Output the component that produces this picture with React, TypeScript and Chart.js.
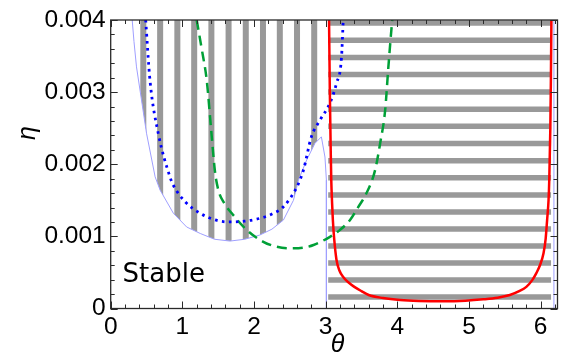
import React, { useEffect, useRef } from 'react';
import { Chart, registerables } from 'chart.js';

Chart.register(...registerables);

// ---------- data ----------
const xTickValues = [0, 1, 2, 3, 4, 5, 6];
const yTickLabels = ['0', '0.001', '0.002', '0.003', '0.004'];

// thin lavender boundary of the vertically striped region
const lavTheta = [0.30, 0.325, 0.36, 0.43, 0.50, 0.62, 0.69, 0.875, 1.06, 1.25, 1.45, 1.665, 1.87, 2.08, 2.25, 2.41, 2.55, 2.62, 2.735, 2.85, 2.94, 2.99, 3.01, 3.01];
const lavEta = [0.0040, 0.0037, 0.00335, 0.00289, 0.00243, 0.001825, 0.00164, 0.00132, 0.00113, 0.00104, 0.00096, 0.000935, 0.00096, 0.001018, 0.0011, 0.001226, 0.0015, 0.00178, 0.00206, 0.00229, 0.00238, 0.0021, 0.00178, 0];

// thin lavender line at the right edge of the horizontally striped region
const lavRightTheta = [6.185, 6.185];
const lavRightEta = [0, 0.004];

// blue dotted curve
const blueTheta = [0.488, 0.548, 0.664, 0.827, 0.873, 1.04, 1.25, 1.45, 1.64, 1.86, 2.08, 2.25, 2.41, 2.6, 2.69, 2.80, 2.92, 3.06, 3.15, 3.22, 3.245];
const blueEta = [0.004, 0.003165, 0.002427, 0.001825, 0.00171, 0.00148, 0.00132, 0.00123, 0.0012, 0.00121, 0.00125, 0.00131, 0.00141, 0.00169, 0.00192, 0.00238, 0.00261, 0.00285, 0.00312, 0.00347, 0.004];

// green dashed curve
const greenTheta = [1.20, 1.27, 1.34, 1.40, 1.455, 1.50, 1.59, 1.69, 1.90, 2.13, 2.30, 2.50, 2.70, 2.83, 3.06, 3.20, 3.34, 3.45, 3.57, 3.69, 3.76, 3.83, 3.875, 3.92, 3.93];
const greenEta = [0.004, 0.0036, 0.003165, 0.0025, 0.0019, 0.00165, 0.00145, 0.00132, 0.001087, 0.000925, 0.00086, 0.000834, 0.000845, 0.00088, 0.000994, 0.00109, 0.001226, 0.0014, 0.0016, 0.00192, 0.00229, 0.00275, 0.00335, 0.0039, 0.004];

// red solid curve
const redTheta = [3.047, 3.058, 3.07, 3.078, 3.09, 3.10, 3.12, 3.15, 3.19, 3.25, 3.32, 3.40, 3.50, 3.60, 3.80, 4.04, 4.30, 4.64, 4.95, 5.20, 5.40, 5.57, 5.70, 5.80, 5.88, 5.94, 5.99, 6.04, 6.07, 6.09, 6.11, 6.12, 6.135, 6.143, 6.15];
const redEta = [0.004, 0.003, 0.0022, 0.00178, 0.00145, 0.00123, 0.00095, 0.00068, 0.00053, 0.00043, 0.00036, 0.0003, 0.00024, 0.000187, 0.000145, 0.000118, 0.000105, 0.0001, 0.000108, 0.000127, 0.00015, 0.000187, 0.00024, 0.0003, 0.00039, 0.00049, 0.0006, 0.000765, 0.00097, 0.001226, 0.0015, 0.00178, 0.0025, 0.0032, 0.004];

// vertical gray stripes (theta positions)
const vStripeTheta = [0.455, 0.69, 0.93, 1.165, 1.405, 1.645, 1.885, 2.125, 2.36, 2.60, 2.84];
// horizontal gray stripes (eta positions) and their theta extent
const hStripeEta = [0.000159, 0.000395, 0.00063, 0.000866, 0.001101, 0.001338, 0.001575, 0.001812, 0.002047, 0.002288, 0.002528, 0.002763, 0.003003, 0.003244, 0.003479, 0.003718, 0.003958];
const hStripeFrom = 3.035;
const hStripeTo = 6.145;

// ---------- layout ----------
const W = 563;
const H = 364;
const AREA_LEFT = 110.7;
const AREA_RIGHT = 557.5;
const AREA_TOP = 20;
const AREA_BOTTOM = 308.5;
const X_MAX = 6.235;

const LAV_INDEX = 3;

const pts = (xs: number[], ys: number[]) => xs.map((x, i) => ({ x, y: ys[i] }));

const stripeClip = {
  id: 'stripeClip',
  beforeDatasetDraw(chart: any, args: any) {
    const ds = chart.data.datasets[args.index];
    if (!ds.clipToLav) return;
    const lav = chart.getDatasetMeta(LAV_INDEX).data;
    const ctx = chart.ctx;
    const a = chart.chartArea;
    ctx.save();
    ctx.beginPath();
    ctx.moveTo(lav[0].x, a.top - 20);
    lav.forEach((p: any) => ctx.lineTo(p.x, p.y));
    const last = lav[lav.length - 1];
    ctx.lineTo(last.x, a.top - 20);
    ctx.closePath();
    ctx.clip();
  },
  afterDatasetDraw(chart: any, args: any) {
    const ds = chart.data.datasets[args.index];
    if (ds.clipToLav) chart.ctx.restore();
  },
};

const framePlugin = {
  id: 'framePlugin',
  afterDatasetsDraw(chart: any) {
    const { ctx, chartArea: a, scales } = chart;
    const x = scales.x;
    const y = scales.y;
    ctx.save();
    ctx.strokeStyle = '#2a2a2a';
    ctx.lineWidth = 1.3;
    ctx.strokeRect(a.left, a.top, a.right - a.left, a.bottom - a.top);
    ctx.lineWidth = 1;
    const seg = (x1: number, y1: number, x2: number, y2: number) => {
      ctx.beginPath();
      ctx.moveTo(x1, y1);
      ctx.lineTo(x2, y2);
      ctx.stroke();
    };
    for (let i = 0; i <= 40; i++) {
      const v = i * 0.2;
      if (v > x.max) break;
      const px = Math.round(x.getPixelForValue(v)) + 0.5;
      const L = i % 5 === 0 ? 7 : 4;
      seg(px, a.bottom, px, a.bottom - L);
      seg(px, a.top, px, a.top + L);
    }
    for (let i = 0; i <= 20; i++) {
      const v = i * 0.0002;
      const py = Math.round(y.getPixelForValue(v)) + 0.5;
      const L = i % 5 === 0 ? 7 : 4;
      seg(a.left, py, a.left + L, py);
      seg(a.right, py, a.right - L, py);
    }
    // texts
    ctx.fillStyle = '#000';
    ctx.font = '26px "DejaVu Sans"';
    ctx.textAlign = 'left';
    ctx.textBaseline = 'alphabetic';
    ctx.fillText('Stable', x.getPixelForValue(0.165), y.getPixelForValue(0.000367));
    ctx.font = 'italic 25px "Liberation Sans"';
    ctx.textAlign = 'center';
    ctx.textBaseline = 'middle';
    ctx.fillText('θ', 337.5, 345);
    ctx.translate(28, 133);
    ctx.rotate(-Math.PI / 2);
    ctx.fillText('η', 0, 0);
    ctx.restore();
  },
};

export default function App() {
  const ref = useRef<HTMLCanvasElement | null>(null);
  useEffect(() => {
    document.body.style.margin = '0';
    const canvas = ref.current;
    if (!canvas) return;

    const curve = (data: any, color: string, width: number, extra: any = {}) => ({
      data,
      borderColor: color,
      backgroundColor: color,
      borderWidth: width,
      pointRadius: 0,
      fill: false,
      clip: 0,
      ...extra,
    });

    const datasets: any[] = [
      curve(pts(redTheta, redEta), '#ff0000', 2.5, { cubicInterpolationMode: 'monotone' }),
      curve(pts(blueTheta, blueEta), '#0000ff', 2.8, { borderDash: [2.6, 4.4], cubicInterpolationMode: 'monotone' }),
      curve(pts(greenTheta, greenEta), '#00a037', 2.5, { borderDash: [10, 6], cubicInterpolationMode: 'monotone' }),
      curve(pts(lavTheta, lavEta), '#9f9fff', 1, { tension: 0 }),
      curve(pts(lavRightTheta, lavRightEta), '#9f9fff', 1),
      ...hStripeEta.map((e) => curve([{ x: hStripeFrom, y: e }, { x: hStripeTo, y: e }], '#999999', 5.5, { borderCapStyle: 'butt' })),
      ...vStripeTheta.map((t) => curve([{ x: t, y: 0 }, { x: t, y: 0.004 }], '#999999', 6, { clipToLav: true, borderCapStyle: 'butt' })),
    ];

    const chart = new Chart(canvas, {
      type: 'line',
      data: { datasets },
      plugins: [stripeClip, framePlugin],
      options: {
        animation: false,
        responsive: false,
        devicePixelRatio: 1,
        layout: { padding: { left: 0, top: AREA_TOP, right: W - AREA_RIGHT, bottom: 0 } },
        plugins: { legend: { display: false }, tooltip: { enabled: false } },
        scales: {
          x: {
            type: 'linear',
            min: 0,
            max: X_MAX,
            grid: { display: false, drawTicks: false },
            border: { display: false },
            afterFit: (s: any) => { s.height = H - AREA_BOTTOM; },
            afterBuildTicks: (s: any) => { s.ticks = xTickValues.map((v) => ({ value: v })); },
            ticks: {
              padding: 4,
              color: '#000',
              font: { family: '"Liberation Sans"', size: 24.5 },
              maxRotation: 0,
              callback: (v: any) => String(v),
            },
          },
          y: {
            type: 'linear',
            min: 0,
            max: 0.004,
            grid: { display: false, drawTicks: false },
            border: { display: false },
            afterFit: (s: any) => { s.width = AREA_LEFT; },
            afterBuildTicks: (s: any) => { s.ticks = yTickLabels.map((l) => ({ value: Number(l) })); },
            ticks: {
              padding: 5,
              color: '#000',
              font: { family: '"Liberation Sans"', size: 24.5 },
              callback: (v: any, i: number) => yTickLabels[i],
            },
          },
        },
      } as any,
    });
    return () => chart.destroy();
  }, []);

  return (
    <div style={{ width: W, height: H, background: '#fff' }}>
      <canvas ref={ref} width={W} height={H} style={{ display: 'block' }} />
    </div>
  );
}
